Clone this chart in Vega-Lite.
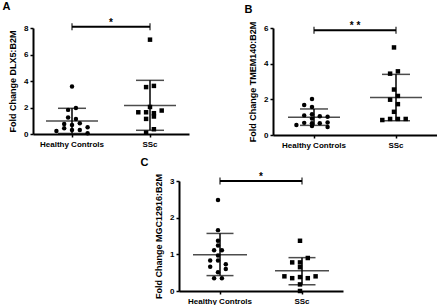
{
  "$schema": "https://vega.github.io/schema/vega-lite/v6.json",
  "padding": {"left": 2, "top": 0, "right": 0, "bottom": 0},
  "background": "white",
  "config": {
    "view": {"stroke": null},
    "font": "Liberation Sans",
    "axis": {"domainColor": "black", "domainWidth": 2, "tickColor": "black", "tickWidth": 1.5, "tickSize": 3, "labelFont": "Liberation Sans", "labelFontWeight": "bold", "labelFontSize": 8, "labelColor": "black", "labelOverlap": false, "titleFont": "Liberation Sans", "titleFontWeight": "bold", "titleFontSize": 9, "titleColor": "black", "grid": false},
    "title": {"font": "Liberation Sans", "fontWeight": "bold", "fontSize": 11, "color": "black", "anchor": "start", "frame": "bounds"}
  },
  "datasets": {
    "pts": [
      {"panel": "A", "group": "Healthy Controls", "value": 3.59, "col": 0},
      {"panel": "A", "group": "Healthy Controls", "value": 1.82, "col": -1},
      {"panel": "A", "group": "Healthy Controls", "value": 1.97, "col": 1},
      {"panel": "A", "group": "Healthy Controls", "value": 1.24, "col": -1},
      {"panel": "A", "group": "Healthy Controls", "value": 1.14, "col": 1},
      {"panel": "A", "group": "Healthy Controls", "value": 0.23, "col": -4},
      {"panel": "A", "group": "Healthy Controls", "value": 0.76, "col": -2},
      {"panel": "A", "group": "Healthy Controls", "value": 0.43, "col": -2},
      {"panel": "A", "group": "Healthy Controls", "value": 0.68, "col": 0},
      {"panel": "A", "group": "Healthy Controls", "value": 0.30, "col": 0},
      {"panel": "A", "group": "Healthy Controls", "value": 0.81, "col": 2},
      {"panel": "A", "group": "Healthy Controls", "value": 0.30, "col": 2},
      {"panel": "A", "group": "Healthy Controls", "value": 0.51, "col": 4},
      {"panel": "A", "group": "Healthy Controls", "value": 0.05, "col": 4},
      {"panel": "A", "group": "SSc", "value": 7.12, "col": 0},
      {"panel": "A", "group": "SSc", "value": 3.54, "col": -1},
      {"panel": "A", "group": "SSc", "value": 3.63, "col": 1},
      {"panel": "A", "group": "SSc", "value": 2.04, "col": 0},
      {"panel": "A", "group": "SSc", "value": 1.64, "col": -3},
      {"panel": "A", "group": "SSc", "value": 1.64, "col": -1},
      {"panel": "A", "group": "SSc", "value": 1.57, "col": 1},
      {"panel": "A", "group": "SSc", "value": 1.77, "col": 3},
      {"panel": "A", "group": "SSc", "value": 1.14, "col": -1},
      {"panel": "A", "group": "SSc", "value": 1.32, "col": 1},
      {"panel": "A", "group": "SSc", "value": 0.11, "col": -1},
      {"panel": "A", "group": "SSc", "value": 0.36, "col": 1},
      {"panel": "B", "group": "Healthy Controls", "value": 2.02, "col": 0},
      {"panel": "B", "group": "Healthy Controls", "value": 1.68, "col": -2},
      {"panel": "B", "group": "Healthy Controls", "value": 1.57, "col": 0},
      {"panel": "B", "group": "Healthy Controls", "value": 1.17, "col": 0},
      {"panel": "B", "group": "Healthy Controls", "value": 1.10, "col": -2},
      {"panel": "B", "group": "Healthy Controls", "value": 1.05, "col": 2},
      {"panel": "B", "group": "Healthy Controls", "value": 1.02, "col": 4},
      {"panel": "B", "group": "Healthy Controls", "value": 0.92, "col": 0},
      {"panel": "B", "group": "Healthy Controls", "value": 0.68, "col": -2},
      {"panel": "B", "group": "Healthy Controls", "value": 0.66, "col": 0},
      {"panel": "B", "group": "Healthy Controls", "value": 0.66, "col": 2},
      {"panel": "B", "group": "Healthy Controls", "value": 0.70, "col": 4},
      {"panel": "B", "group": "Healthy Controls", "value": 0.56, "col": -4},
      {"panel": "B", "group": "Healthy Controls", "value": 0.50, "col": 0},
      {"panel": "B", "group": "Healthy Controls", "value": 0.45, "col": 4},
      {"panel": "B", "group": "SSc", "value": 4.91, "col": 0},
      {"panel": "B", "group": "SSc", "value": 3.44, "col": -1},
      {"panel": "B", "group": "SSc", "value": 3.57, "col": 1},
      {"panel": "B", "group": "SSc", "value": 2.55, "col": 0},
      {"panel": "B", "group": "SSc", "value": 1.98, "col": -1},
      {"panel": "B", "group": "SSc", "value": 2.19, "col": 1},
      {"panel": "B", "group": "SSc", "value": 1.73, "col": 1},
      {"panel": "B", "group": "SSc", "value": 1.30, "col": 0},
      {"panel": "B", "group": "SSc", "value": 0.84, "col": -3},
      {"panel": "B", "group": "SSc", "value": 0.90, "col": -1},
      {"panel": "B", "group": "SSc", "value": 0.90, "col": 1},
      {"panel": "B", "group": "SSc", "value": 0.90, "col": 3},
      {"panel": "C", "group": "Healthy Controls", "value": 2.48, "col": 0},
      {"panel": "C", "group": "Healthy Controls", "value": 1.66, "col": 0},
      {"panel": "C", "group": "Healthy Controls", "value": 1.37, "col": 0},
      {"panel": "C", "group": "Healthy Controls", "value": 1.24, "col": 0},
      {"panel": "C", "group": "Healthy Controls", "value": 1.11, "col": -1},
      {"panel": "C", "group": "Healthy Controls", "value": 1.11, "col": 1},
      {"panel": "C", "group": "Healthy Controls", "value": 0.97, "col": 0},
      {"panel": "C", "group": "Healthy Controls", "value": 0.83, "col": -2},
      {"panel": "C", "group": "Healthy Controls", "value": 0.83, "col": 0},
      {"panel": "C", "group": "Healthy Controls", "value": 0.73, "col": 2},
      {"panel": "C", "group": "Healthy Controls", "value": 0.66, "col": -2},
      {"panel": "C", "group": "Healthy Controls", "value": 0.60, "col": 2},
      {"panel": "C", "group": "Healthy Controls", "value": 0.51, "col": 0},
      {"panel": "C", "group": "Healthy Controls", "value": 0.35, "col": -1},
      {"panel": "C", "group": "Healthy Controls", "value": 0.35, "col": 1},
      {"panel": "C", "group": "SSc", "value": 1.37, "col": 0},
      {"panel": "C", "group": "SSc", "value": 0.78, "col": -2},
      {"panel": "C", "group": "SSc", "value": 0.78, "col": 0},
      {"panel": "C", "group": "SSc", "value": 0.90, "col": 2},
      {"panel": "C", "group": "SSc", "value": 0.65, "col": 0},
      {"panel": "C", "group": "SSc", "value": 0.40, "col": -4},
      {"panel": "C", "group": "SSc", "value": 0.35, "col": -2},
      {"panel": "C", "group": "SSc", "value": 0.38, "col": 0},
      {"panel": "C", "group": "SSc", "value": 0.35, "col": 2},
      {"panel": "C", "group": "SSc", "value": 0.40, "col": 4},
      {"panel": "C", "group": "SSc", "value": 0.18, "col": 0},
      {"panel": "C", "group": "SSc", "value": 0.0, "col": 0}
    ],
    "sum": [
      {"panel": "A", "group": "Healthy Controls", "mean": 0.99, "lo": 0.04, "hi": 1.94},
      {"panel": "A", "group": "SSc", "mean": 2.15, "lo": 0.28, "hi": 4.05},
      {"panel": "B", "group": "Healthy Controls", "mean": 1.0, "lo": 0.54, "hi": 1.46},
      {"panel": "B", "group": "SSc", "mean": 2.1, "lo": 0.8, "hi": 3.4},
      {"panel": "C", "group": "Healthy Controls", "mean": 0.99, "lo": 0.42, "hi": 1.57},
      {"panel": "C", "group": "SSc", "mean": 0.55, "lo": 0.17, "hi": 0.91}
    ],
    "sig": [
      {"panel": "A", "from": "Healthy Controls", "to": "SSc", "y": 8.1, "label": "*"},
      {"panel": "B", "from": "Healthy Controls", "to": "SSc", "y": 5.88, "label": "* *"},
      {"panel": "C", "from": "Healthy Controls", "to": "SSc", "y": 3.0, "label": "*"}
    ]
  },
  "vconcat": [
    {
      "hconcat": [
        {
          "title": {"text": "A", "dx": -6, "offset": 6},
          "width": 156, "height": 106,
          "layer": [
            {"data": {"name": "pts"}, "transform": [{"filter": "datum.panel === 'A'"}], "mark": {"type": "point", "filled": true, "opacity": 1, "color": "black", "size": 20},
             "encoding": {
               "x": {"field": "group", "type": "nominal", "sort": ["Healthy Controls", "SSc"], "scale": {"paddingInner": 0, "paddingOuter": 0}, "axis": {"title": null, "labelAngle": 0, "labelFontSize": 8, "labelPadding": 3}},
               "xOffset": {"field": "col", "type": "quantitative", "scale": {"domain": [-10, 10]}},
               "y": {"field": "value", "type": "quantitative", "scale": {"domain": [0, 8]}, "axis": {"values": [0, 2, 4, 6, 8], "labelOverlap": false, "title": "Fold Change DLX5:B2M", "titlePadding": 6}},
               "shape": {"field": "group", "type": "nominal", "scale": {"domain": ["Healthy Controls", "SSc"], "range": ["circle", "square"]}, "legend": null}
             }},
            {"data": {"name": "sum"}, "transform": [{"filter": "datum.panel === 'A'"}], "mark": {"type": "rule", "color": "black", "strokeWidth": 1.5}, "encoding": {"x": {"field": "group", "type": "nominal"}, "y": {"field": "lo", "type": "quantitative", "axis": {"values": [0, 2, 4, 6, 8], "labelOverlap": false, "title": "Fold Change DLX5:B2M", "titlePadding": 6}}, "y2": {"field": "hi"}}},
            {"data": {"name": "sum"}, "transform": [{"filter": "datum.panel === 'A'"}], "mark": {"type": "tick", "color": "black", "thickness": 1.5, "size": 52, "orient": "horizontal"}, "encoding": {"x": {"field": "group", "type": "nominal"}, "y": {"field": "mean", "type": "quantitative", "axis": {"values": [0, 2, 4, 6, 8], "labelOverlap": false, "title": "Fold Change DLX5:B2M", "titlePadding": 6}}}},
            {"data": {"name": "sum"}, "transform": [{"filter": "datum.panel === 'A'"}], "mark": {"type": "tick", "color": "black", "thickness": 1.5, "size": 28, "orient": "horizontal"}, "encoding": {"x": {"field": "group", "type": "nominal"}, "y": {"field": "lo", "type": "quantitative", "axis": {"values": [0, 2, 4, 6, 8], "labelOverlap": false, "title": "Fold Change DLX5:B2M", "titlePadding": 6}}}},
            {"data": {"name": "sum"}, "transform": [{"filter": "datum.panel === 'A'"}], "mark": {"type": "tick", "color": "black", "thickness": 1.5, "size": 28, "orient": "horizontal"}, "encoding": {"x": {"field": "group", "type": "nominal"}, "y": {"field": "hi", "type": "quantitative", "axis": {"values": [0, 2, 4, 6, 8], "labelOverlap": false, "title": "Fold Change DLX5:B2M", "titlePadding": 6}}}},
            {"data": {"name": "sig"}, "transform": [{"filter": "datum.panel === 'A'"}], "mark": {"type": "rule", "color": "black", "strokeWidth": 2, "clip": false}, "encoding": {"x": {"field": "from", "type": "nominal"}, "x2": {"field": "to"}, "y": {"field": "y", "type": "quantitative", "axis": {"values": [0, 2, 4, 6, 8], "labelOverlap": false, "title": "Fold Change DLX5:B2M", "titlePadding": 6}}}},
            {"data": {"name": "sig"}, "transform": [{"filter": "datum.panel === 'A'"}], "mark": {"type": "tick", "color": "black", "thickness": 1.5, "size": 7, "orient": "vertical", "clip": false}, "encoding": {"x": {"field": "from", "type": "nominal"}, "y": {"field": "y", "type": "quantitative", "axis": {"values": [0, 2, 4, 6, 8], "labelOverlap": false, "title": "Fold Change DLX5:B2M", "titlePadding": 6}}}},
            {"data": {"name": "sig"}, "transform": [{"filter": "datum.panel === 'A'"}], "mark": {"type": "tick", "color": "black", "thickness": 1.5, "size": 7, "orient": "vertical", "clip": false}, "encoding": {"x": {"field": "to", "type": "nominal"}, "y": {"field": "y", "type": "quantitative", "axis": {"values": [0, 2, 4, 6, 8], "labelOverlap": false, "title": "Fold Change DLX5:B2M", "titlePadding": 6}}}},
            {"data": {"name": "sig"}, "transform": [{"filter": "datum.panel === 'A'"}], "mark": {"type": "text", "color": "black", "fontSize": 10, "fontWeight": "bold", "baseline": "alphabetic", "dx": 39, "dy": -1}, "encoding": {"x": {"field": "from", "type": "nominal"}, "y": {"field": "y", "type": "quantitative", "axis": {"values": [0, 2, 4, 6, 8], "labelOverlap": false, "title": "Fold Change DLX5:B2M", "titlePadding": 6}}, "text": {"field": "label"}}}
          ]
        },
        {
          "title": {"text": "B", "dx": -4, "offset": 6},
          "width": 164, "height": 107,
          "layer": [
            {"data": {"name": "pts"}, "transform": [{"filter": "datum.panel === 'B'"}], "mark": {"type": "point", "filled": true, "opacity": 1, "color": "black", "size": 20},
             "encoding": {
               "x": {"field": "group", "type": "nominal", "sort": ["Healthy Controls", "SSc"], "scale": {"paddingInner": 0, "paddingOuter": 0}, "axis": {"title": null, "labelAngle": 0, "labelFontSize": 8, "labelPadding": 3}},
               "xOffset": {"field": "col", "type": "quantitative", "scale": {"domain": [-10, 10]}},
               "y": {"field": "value", "type": "quantitative", "scale": {"domain": [0, 6]}, "axis": {"values": [0, 2, 4, 6], "labelOverlap": false, "title": "Fold Change TMEM140:B2M", "titlePadding": 6}},
               "shape": {"field": "group", "type": "nominal", "scale": {"domain": ["Healthy Controls", "SSc"], "range": ["circle", "square"]}, "legend": null}
             }},
            {"data": {"name": "sum"}, "transform": [{"filter": "datum.panel === 'B'"}], "mark": {"type": "rule", "color": "black", "strokeWidth": 1.5}, "encoding": {"x": {"field": "group", "type": "nominal"}, "y": {"field": "lo", "type": "quantitative", "axis": {"values": [0, 2, 4, 6], "labelOverlap": false, "title": "Fold Change TMEM140:B2M", "titlePadding": 6}}, "y2": {"field": "hi"}}},
            {"data": {"name": "sum"}, "transform": [{"filter": "datum.panel === 'B'"}], "mark": {"type": "tick", "color": "black", "thickness": 1.5, "size": 52, "orient": "horizontal"}, "encoding": {"x": {"field": "group", "type": "nominal"}, "y": {"field": "mean", "type": "quantitative", "axis": {"values": [0, 2, 4, 6], "labelOverlap": false, "title": "Fold Change TMEM140:B2M", "titlePadding": 6}}}},
            {"data": {"name": "sum"}, "transform": [{"filter": "datum.panel === 'B'"}], "mark": {"type": "tick", "color": "black", "thickness": 1.5, "size": 28, "orient": "horizontal"}, "encoding": {"x": {"field": "group", "type": "nominal"}, "y": {"field": "lo", "type": "quantitative", "axis": {"values": [0, 2, 4, 6], "labelOverlap": false, "title": "Fold Change TMEM140:B2M", "titlePadding": 6}}}},
            {"data": {"name": "sum"}, "transform": [{"filter": "datum.panel === 'B'"}], "mark": {"type": "tick", "color": "black", "thickness": 1.5, "size": 28, "orient": "horizontal"}, "encoding": {"x": {"field": "group", "type": "nominal"}, "y": {"field": "hi", "type": "quantitative", "axis": {"values": [0, 2, 4, 6], "labelOverlap": false, "title": "Fold Change TMEM140:B2M", "titlePadding": 6}}}},
            {"data": {"name": "sig"}, "transform": [{"filter": "datum.panel === 'B'"}], "mark": {"type": "rule", "color": "black", "strokeWidth": 2, "clip": false}, "encoding": {"x": {"field": "from", "type": "nominal"}, "x2": {"field": "to"}, "y": {"field": "y", "type": "quantitative", "axis": {"values": [0, 2, 4, 6], "labelOverlap": false, "title": "Fold Change TMEM140:B2M", "titlePadding": 6}}}},
            {"data": {"name": "sig"}, "transform": [{"filter": "datum.panel === 'B'"}], "mark": {"type": "tick", "color": "black", "thickness": 1.5, "size": 7, "orient": "vertical", "clip": false}, "encoding": {"x": {"field": "from", "type": "nominal"}, "y": {"field": "y", "type": "quantitative", "axis": {"values": [0, 2, 4, 6], "labelOverlap": false, "title": "Fold Change TMEM140:B2M", "titlePadding": 6}}}},
            {"data": {"name": "sig"}, "transform": [{"filter": "datum.panel === 'B'"}], "mark": {"type": "tick", "color": "black", "thickness": 1.5, "size": 7, "orient": "vertical", "clip": false}, "encoding": {"x": {"field": "to", "type": "nominal"}, "y": {"field": "y", "type": "quantitative", "axis": {"values": [0, 2, 4, 6], "labelOverlap": false, "title": "Fold Change TMEM140:B2M", "titlePadding": 6}}}},
            {"data": {"name": "sig"}, "transform": [{"filter": "datum.panel === 'B'"}], "mark": {"type": "text", "color": "black", "fontSize": 10, "fontWeight": "bold", "baseline": "alphabetic", "dx": 41, "dy": -1}, "encoding": {"x": {"field": "from", "type": "nominal"}, "y": {"field": "y", "type": "quantitative", "axis": {"values": [0, 2, 4, 6], "labelOverlap": false, "title": "Fold Change TMEM140:B2M", "titlePadding": 6}}, "text": {"field": "label"}}}
          ]
        }
      ],
      "spacing": 55
    },
    {
      "hconcat": [
        {"data": {"values": []}, "mark": "point", "width": 1, "height": 1},
        {
          "title": {"text": "C", "dx": -14, "offset": 4},
          "width": 164, "height": 110,
          "layer": [
            {"data": {"name": "pts"}, "transform": [{"filter": "datum.panel === 'C'"}], "mark": {"type": "point", "filled": true, "opacity": 1, "color": "black", "size": 20},
             "encoding": {
               "x": {"field": "group", "type": "nominal", "sort": ["Healthy Controls", "SSc"], "scale": {"paddingInner": 0, "paddingOuter": 0}, "axis": {"title": null, "labelAngle": 0, "labelFontSize": 8, "labelPadding": 3}},
               "xOffset": {"field": "col", "type": "quantitative", "scale": {"domain": [-10, 10]}},
               "y": {"field": "value", "type": "quantitative", "scale": {"domain": [0, 3]}, "axis": {"values": [0, 1, 2, 3], "labelOverlap": false, "title": "Fold Change MGC12916:B2M", "titlePadding": 6}},
               "shape": {"field": "group", "type": "nominal", "scale": {"domain": ["Healthy Controls", "SSc"], "range": ["circle", "square"]}, "legend": null}
             }},
            {"data": {"name": "sum"}, "transform": [{"filter": "datum.panel === 'C'"}], "mark": {"type": "rule", "color": "black", "strokeWidth": 1.5}, "encoding": {"x": {"field": "group", "type": "nominal"}, "y": {"field": "lo", "type": "quantitative", "axis": {"values": [0, 1, 2, 3], "labelOverlap": false, "title": "Fold Change MGC12916:B2M", "titlePadding": 6}}, "y2": {"field": "hi"}}},
            {"data": {"name": "sum"}, "transform": [{"filter": "datum.panel === 'C'"}], "mark": {"type": "tick", "color": "black", "thickness": 1.5, "size": 54, "orient": "horizontal"}, "encoding": {"x": {"field": "group", "type": "nominal"}, "y": {"field": "mean", "type": "quantitative", "axis": {"values": [0, 1, 2, 3], "labelOverlap": false, "title": "Fold Change MGC12916:B2M", "titlePadding": 6}}}},
            {"data": {"name": "sum"}, "transform": [{"filter": "datum.panel === 'C'"}], "mark": {"type": "tick", "color": "black", "thickness": 1.5, "size": 27, "orient": "horizontal"}, "encoding": {"x": {"field": "group", "type": "nominal"}, "y": {"field": "lo", "type": "quantitative", "axis": {"values": [0, 1, 2, 3], "labelOverlap": false, "title": "Fold Change MGC12916:B2M", "titlePadding": 6}}}},
            {"data": {"name": "sum"}, "transform": [{"filter": "datum.panel === 'C'"}], "mark": {"type": "tick", "color": "black", "thickness": 1.5, "size": 27, "orient": "horizontal"}, "encoding": {"x": {"field": "group", "type": "nominal"}, "y": {"field": "hi", "type": "quantitative", "axis": {"values": [0, 1, 2, 3], "labelOverlap": false, "title": "Fold Change MGC12916:B2M", "titlePadding": 6}}}},
            {"data": {"name": "sig"}, "transform": [{"filter": "datum.panel === 'C'"}], "mark": {"type": "rule", "color": "black", "strokeWidth": 2, "clip": false}, "encoding": {"x": {"field": "from", "type": "nominal"}, "x2": {"field": "to"}, "y": {"field": "y", "type": "quantitative", "axis": {"values": [0, 1, 2, 3], "labelOverlap": false, "title": "Fold Change MGC12916:B2M", "titlePadding": 6}}}},
            {"data": {"name": "sig"}, "transform": [{"filter": "datum.panel === 'C'"}], "mark": {"type": "tick", "color": "black", "thickness": 1.5, "size": 7, "orient": "vertical", "clip": false}, "encoding": {"x": {"field": "from", "type": "nominal"}, "y": {"field": "y", "type": "quantitative", "axis": {"values": [0, 1, 2, 3], "labelOverlap": false, "title": "Fold Change MGC12916:B2M", "titlePadding": 6}}}},
            {"data": {"name": "sig"}, "transform": [{"filter": "datum.panel === 'C'"}], "mark": {"type": "tick", "color": "black", "thickness": 1.5, "size": 7, "orient": "vertical", "clip": false}, "encoding": {"x": {"field": "to", "type": "nominal"}, "y": {"field": "y", "type": "quantitative", "axis": {"values": [0, 1, 2, 3], "labelOverlap": false, "title": "Fold Change MGC12916:B2M", "titlePadding": 6}}}},
            {"data": {"name": "sig"}, "transform": [{"filter": "datum.panel === 'C'"}], "mark": {"type": "text", "color": "black", "fontSize": 10, "fontWeight": "bold", "baseline": "alphabetic", "dx": 41, "dy": -1}, "encoding": {"x": {"field": "from", "type": "nominal"}, "y": {"field": "y", "type": "quantitative", "axis": {"values": [0, 1, 2, 3], "labelOverlap": false, "title": "Fold Change MGC12916:B2M", "titlePadding": 6}}, "text": {"field": "label"}}}
          ]
        }
      ],
      "spacing": 106
    }
  ],
  "spacing": 8
}
